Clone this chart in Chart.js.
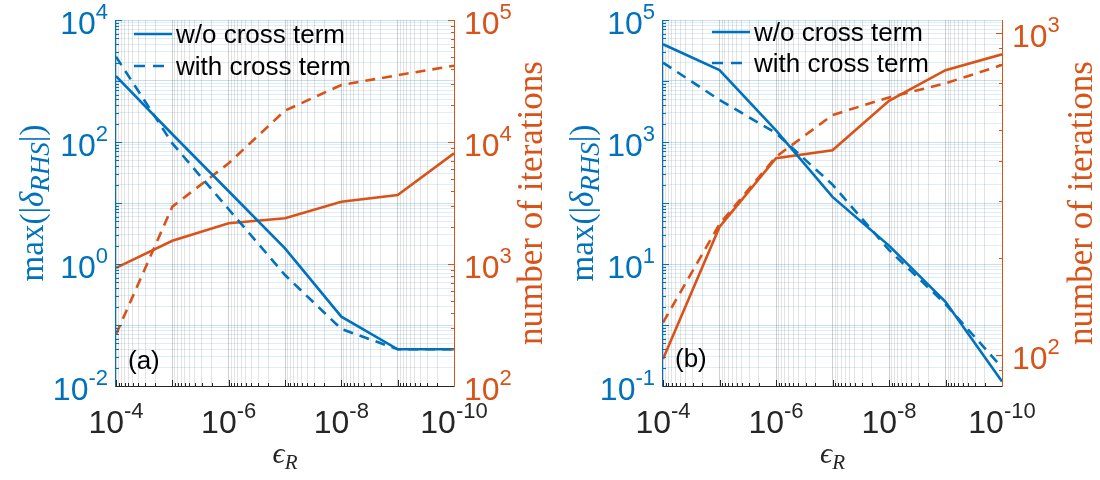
<!DOCTYPE html>
<html>
<head>
<meta charset="utf-8">
<script src="https://cdn.jsdelivr.net/npm/chart.js@4.4.1/dist/chart.umd.min.js"></script>
<style>
  html, body { margin: 0; padding: 0; background: #fff; }
  #wrap { display: flex; width: 1100px; height: 480px; }
  .panel { width: 550px; height: 480px; }
</style>
</head>
<body>
<div id="wrap">
  <div class="panel"><canvas id="panelA" width="550" height="480"></canvas></div>
  <div class="panel"><canvas id="panelB" width="550" height="480"></canvas></div>
</div>
<script>
/*
 * Residual and iteration count against the relative tolerance eps_R,
 * with and without the cross term.  Two panels, each with a log x axis
 * running from 1e-4 down to 1e-10, the residual on the left (blue) and
 * the number of iterations on the right (orange).
 */

const BLUE = '#0072BD';
const ORANGE = '#D95319';
const INK = '#262626';

const epsR = [1e-4, 1e-5, 1e-6, 1e-7, 1e-8, 1e-9, 1e-10];
const legendLabels = ['w/o cross term', 'with cross term'];

// panel (a)
const aResidualNoCross = [1200, 134, 15.6, 1.8, 0.137, 0.04, 0.04];
const aResidualCross = [2500, 95, 7.9, 0.66, 0.086, 0.04, 0.04];
const aItersNoCross = [930, 1550, 2160, 2370, 3240, 3680, 8070];
const aItersCross = [265, 2950, 6690, 18100, 29300, 35300, 42200];

// panel (b)
const bResidualNoCross = [40000, 15100, 1550, 126, 20, 2.4, 0.118];
const bResidualCross = [20000, 4900, 1400, 200, 17, 2.2, 0.2];
const bItersNoCross = [97, 250, 409, 433, 617, 768, 860];
const bItersCross = [126, 255, 413, 557, 632, 699, 797];

// exponents that get a 10^n label on each axis
const xLabelExps = [-4, -6, -8, -10];
const aLeftExps = [-2, 0, 2, 4];
const aRightExps = [2, 3, 4, 5];
const bLeftExps = [-1, 1, 3, 5];
const bRightExps = [2, 3];

const TICK_FONT = '32px "Liberation Sans", Arial, sans-serif';
const SUP_FONT = '22px "Liberation Sans", Arial, sans-serif';
const SERIF = '"Liberation Serif", "DejaVu Serif", serif';

function isDecade(v) {
  const l = Math.log10(v);
  return Math.abs(l - Math.round(l)) < 1e-9;
}

// 1..9 x 10^n ticks between min and max
function logTicks(min, max) {
  const out = [];
  for (let e = Math.floor(Math.log10(min)); e <= Math.ceil(Math.log10(max)); e++) {
    for (let d = 1; d <= 9; d++) {
      const v = Number((d * Math.pow(10, e)).toPrecision(6));
      if (v >= min * 0.9999 && v <= max * 1.0001) out.push({ value: v });
    }
  }
  return out;
}

function lineSet(label, data, color, dashed, axis, legend) {
  return {
    label,
    data: data.map((v, i) => ({ x: epsR[i], y: v })),
    borderColor: color,
    borderWidth: 2.6,
    borderDash: dashed ? [10, 7] : [],
    pointRadius: 0,
    tension: 0,
    fill: false,
    yAxisID: axis,
    inLegend: legend
  };
}

// "10" with a raised exponent, anchored at x by align
function drawPower(ctx, exp, x, y, align, color) {
  const sup = String(exp);
  ctx.font = TICK_FONT;
  const bw = ctx.measureText('10').width;
  ctx.font = SUP_FONT;
  const sw = ctx.measureText(sup).width;
  let x0 = x;
  if (align === 'right') x0 = x - bw - sw;
  if (align === 'center') x0 = x - (bw + sw) / 2;
  ctx.fillStyle = color;
  ctx.textAlign = 'left';
  ctx.textBaseline = 'alphabetic';
  ctx.font = TICK_FONT;
  ctx.fillText('10', x0, y);
  ctx.font = SUP_FONT;
  ctx.fillText(sup, x0 + bw, y - 15);
}

// a run of text pieces (font, text, baseline shift), centred on x
function drawRuns(ctx, runs, x, y, color) {
  ctx.fillStyle = color;
  ctx.textAlign = 'left';
  ctx.textBaseline = 'alphabetic';
  let total = 0;
  runs.forEach(r => { ctx.font = r.font; total += ctx.measureText(r.text).width; });
  let cx = x - total / 2;
  runs.forEach(r => {
    ctx.font = r.font;
    ctx.fillText(r.text, cx, y + (r.dy || 0));
    cx += ctx.measureText(r.text).width;
  });
}

function insideTicks(ctx, scale, side, area, color) {
  ctx.strokeStyle = color;
  ctx.lineWidth = 1;
  ctx.setLineDash([]);
  ctx.beginPath();
  scale.ticks.forEach(t => {
    const len = isDecade(t.value) ? 6 : 3;
    const p = Math.round(scale.getPixelForValue(t.value)) + 0.5;
    if (side === 'left') { ctx.moveTo(area.left, p); ctx.lineTo(area.left + len, p); }
    if (side === 'right') { ctx.moveTo(area.right, p); ctx.lineTo(area.right - len, p); }
    if (side === 'bottom') { ctx.moveTo(p, area.bottom); ctx.lineTo(p, area.bottom - len); }
  });
  ctx.stroke();
}

// axes frame, tick labels, axis titles, legend and panel letter
const decor = {
  id: 'decor',
  afterDraw(chart, args, o) {
    const ctx = chart.ctx;
    const area = chart.chartArea;
    const { x, y, y1 } = chart.scales;
    ctx.save();

    insideTicks(ctx, x, 'bottom', area, INK);
    insideTicks(ctx, y, 'left', area, BLUE);
    insideTicks(ctx, y1, 'right', area, ORANGE);

    ctx.lineWidth = 1;
    ctx.strokeStyle = INK;
    ctx.beginPath(); ctx.moveTo(area.left, area.bottom + 0.5); ctx.lineTo(area.right, area.bottom + 0.5); ctx.stroke();
    ctx.strokeStyle = BLUE;
    ctx.beginPath(); ctx.moveTo(area.left - 0.5, area.top); ctx.lineTo(area.left - 0.5, area.bottom + 1); ctx.stroke();
    ctx.strokeStyle = ORANGE;
    ctx.beginPath(); ctx.moveTo(area.right + 0.5, area.top); ctx.lineTo(area.right + 0.5, area.bottom + 1); ctx.stroke();

    xLabelExps.forEach(e => drawPower(ctx, e, x.getPixelForValue(Math.pow(10, e)), 433, 'center', INK));
    o.leftExps.forEach(e => drawPower(ctx, e, area.left - 8, y.getPixelForValue(Math.pow(10, e)) + 14, 'right', BLUE));
    o.rightExps.forEach(e => drawPower(ctx, e, area.right + 10, y1.getPixelForValue(Math.pow(10, e)) + 14, 'left', ORANGE));

    const midY = (area.top + area.bottom) / 2;
    // left title, max(|delta_RHS|)
    ctx.save();
    ctx.translate(33, midY);
    ctx.rotate(-Math.PI / 2);
    drawRuns(ctx, [
      { font: '33px ' + SERIF, text: 'max(|' },
      { font: 'italic 33px ' + SERIF, text: 'δ' },
      { font: 'italic 27px ' + SERIF, text: 'RHS', dy: 6 },
      { font: '33px ' + SERIF, text: '|)' }
    ], 0, 10, BLUE);
    ctx.restore();
    // right title
    ctx.save();
    ctx.translate(533, midY);
    ctx.rotate(-Math.PI / 2);
    drawRuns(ctx, [{ font: '35px ' + SERIF, text: 'number of iterations' }], 0, 9, ORANGE);
    ctx.restore();
    // x title, eps_R
    drawRuns(ctx, [
      { font: 'italic 30px ' + SERIF, text: 'ϵ' },
      { font: 'italic 21px ' + SERIF, text: 'R', dy: 6 }
    ], (area.left + area.right) / 2, 463, INK);

    // legend
    const items = chart.data.datasets.filter(d => d.inLegend);
    items.forEach((d, i) => {
      const ry = o.legendY[i];
      ctx.strokeStyle = d.borderColor;
      ctx.lineWidth = d.borderWidth;
      ctx.setLineDash(d.borderDash.length ? [11, 8] : []);
      ctx.beginPath();
      ctx.moveTo(o.legendX, ry);
      ctx.lineTo(o.legendX + 38, ry);
      ctx.stroke();
      ctx.setLineDash([]);
      ctx.fillStyle = '#000';
      ctx.font = '26px "Liberation Sans", Arial, sans-serif';
      ctx.textAlign = 'left';
      ctx.textBaseline = 'alphabetic';
      ctx.fillText(d.label, o.legendX + 42, ry + 9);
    });

    ctx.fillStyle = '#000';
    ctx.font = '26px "Liberation Sans", Arial, sans-serif';
    ctx.textAlign = 'left';
    ctx.fillText(o.letter, area.left + 12, o.letterY);
    ctx.restore();
  }
};

function makePanel(canvasId, cfg) {
  const ctx = document.getElementById(canvasId).getContext('2d');
  const minorY = 'rgba(0,114,189,0.13)';
  const majorY = 'rgba(0,114,189,0.22)';
  const minorX = 'rgba(38,38,38,0.13)';
  const majorX = 'rgba(38,38,38,0.22)';
  return new Chart(ctx, {
    type: 'line',
    data: {
      datasets: [
        lineSet(legendLabels[0], cfg.resNo, BLUE, false, 'y', true),
        lineSet(legendLabels[1], cfg.resCross, BLUE, true, 'y', true),
        lineSet('iterations, ' + legendLabels[0], cfg.itNo, ORANGE, false, 'y1', false),
        lineSet('iterations, ' + legendLabels[1], cfg.itCross, ORANGE, true, 'y1', false)
      ]
    },
    options: {
      responsive: false,
      animation: false,
      devicePixelRatio: 1,
      layout: { padding: { top: 20, left: 0, right: 0, bottom: 0 } },
      plugins: {
        legend: { display: false },
        tooltip: { enabled: false },
        decor: cfg.decor
      },
      scales: {
        x: {
          type: 'logarithmic',
          reverse: true,
          min: 1e-10,
          max: 1e-4,
          afterBuildTicks: s => { s.ticks = logTicks(s.min, s.max); },
          afterFit: s => { s.height = 94; },
          ticks: { display: false },
          border: { display: false },
          grid: { drawTicks: false, lineWidth: 1, color: c => isDecade(c.tick.value) ? majorX : minorX }
        },
        y: {
          type: 'logarithmic',
          position: 'left',
          min: cfg.left[0],
          max: cfg.left[1],
          afterBuildTicks: s => { s.ticks = logTicks(s.min, s.max); },
          afterFit: s => { s.width = cfg.boxLeft; },
          ticks: { display: false },
          border: { display: false },
          grid: { drawTicks: false, lineWidth: 1, color: c => isDecade(c.tick.value) ? majorY : minorY }
        },
        y1: {
          type: 'logarithmic',
          position: 'right',
          min: cfg.right[0],
          max: cfg.right[1],
          afterBuildTicks: s => { s.ticks = logTicks(s.min, s.max); },
          afterFit: s => { s.width = cfg.boxRight; },
          ticks: { display: false },
          border: { display: false },
          grid: { display: false, drawTicks: false }
        }
      }
    },
    plugins: [decor]
  });
}

makePanel('panelA', {
  resNo: aResidualNoCross, resCross: aResidualCross,
  itNo: aItersNoCross, itCross: aItersCross,
  left: [1e-2, 1e4], right: [1e2, 1e5],
  boxLeft: 116, boxRight: 96,
  decor: { leftExps: aLeftExps, rightExps: aRightExps, legendX: 134, legendY: [34, 66], letter: '(a)', letterY: 369 }
});

makePanel('panelB', {
  resNo: bResidualNoCross, resCross: bResidualCross,
  itNo: bItersNoCross, itCross: bItersCross,
  left: [1e-1, 1e5], right: [80, 1100],
  boxLeft: 113, boxRight: 98,
  decor: { leftExps: bLeftExps, rightExps: bRightExps, legendX: 162, legendY: [32, 63], letter: '(b)', letterY: 367 }
});
</script>
</body>
</html>
